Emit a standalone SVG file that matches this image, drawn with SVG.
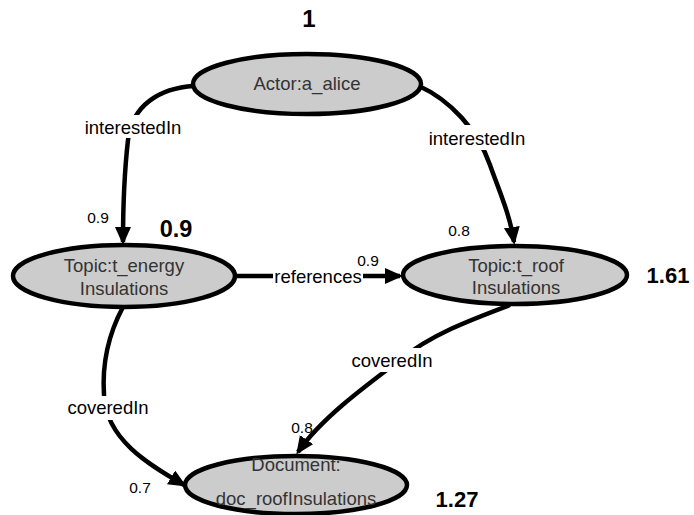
<svg xmlns="http://www.w3.org/2000/svg" width="694" height="515" viewBox="0 0 694 515">
<style>
.node ellipse{fill:#cccccc;stroke:#000;stroke-width:4.5}
.node text{font-family:"Liberation Sans",Arial,sans-serif;font-size:18.5px;fill:#333;text-anchor:middle}
.edge{fill:none;stroke:#000;stroke-width:4.5}
.lbl{font-family:"Liberation Sans",Arial,sans-serif;font-size:18.5px;fill:#000;text-anchor:middle}
.bg{fill:#fff}
.w{font-family:"Liberation Sans",Arial,sans-serif;font-size:15.5px;fill:#000;text-anchor:middle}
.score{font-family:"Liberation Sans",Arial,sans-serif;font-size:22px;font-weight:bold;fill:#000;text-anchor:middle}
</style>
<defs>
<marker id="arr" markerUnits="userSpaceOnUse" markerWidth="20" markerHeight="18" refX="15" refY="8" orient="auto">
<path d="M0,0 L18,8 L0,16 z" fill="#000"/>
</marker>
</defs>
<g id="connectors">
<path class="edge" d="M194,86 C160,88 132,105 128,140 C124,175 123,200 123,242" marker-end="url(#arr)"/>
<path class="edge" d="M419,86 C450,100 478,130 490,165 C500,193 510,215 514,242" marker-end="url(#arr)"/>
<path class="edge" d="M235,276 L400,276" marker-end="url(#arr)"/>
<path class="edge" d="M123,307 C108,335 102,365 104,395 C106,440 150,465 184,485" marker-end="url(#arr)"/>
<path class="edge" d="M510,305 C470,320 430,335 400,360 C360,390 320,420 298,452" marker-end="url(#arr)"/>
<rect class="bg" x="83" y="115" width="100" height="23"/>
<text class="lbl" x="133" y="134">interestedIn</text>
<rect class="bg" x="427" y="125" width="100" height="25"/>
<text class="lbl" x="477" y="145">interestedIn</text>
<rect class="bg" x="273" y="266" width="90" height="21"/>
<text class="lbl" x="318" y="283">references</text>
<rect class="bg" x="64" y="396" width="88" height="24"/>
<text class="lbl" x="108" y="414">coveredIn</text>
<rect class="bg" x="348" y="348" width="88" height="24"/>
<text class="lbl" x="392" y="367">coveredIn</text>
<text class="w" x="98" y="223">0.9</text>
<text class="w" x="459" y="236">0.8</text>
<text class="w" x="368" y="266">0.9</text>
<text class="w" x="302" y="433">0.8</text>
<text class="w" x="140" y="493">0.7</text>
</g>
<g id="actor" class="node">
<ellipse cx="307" cy="84" rx="114" ry="30"/>
<text x="307" y="90">Actor:a_alice</text>
</g>
<g id="topic_energy" class="node">
<ellipse cx="124" cy="276" rx="111" ry="31"/>
<text x="124" y="272">Topic:t_energy</text>
<text x="124" y="295">Insulations</text>
</g>
<g id="topic_roof" class="node">
<ellipse cx="515" cy="275" rx="112" ry="29"/>
<text x="516" y="272">Topic:t_roof</text>
<text x="516" y="294">Insulations</text>
</g>
<g id="document" class="node">
<ellipse cx="296" cy="485" rx="111" ry="29"/>
<text x="296" y="471">Document:</text>
<text x="296" y="505">doc_roofInsulations</text>
</g>
<g id="scores">
<text class="score" x="309" y="27" style="font-size:24px">1</text>
<text class="score" x="176" y="237" style="font-size:23.5px">0.9</text>
<text class="score" x="668" y="283">1.61</text>
<text class="score" x="457" y="507">1.27</text>
</g>
</svg>
